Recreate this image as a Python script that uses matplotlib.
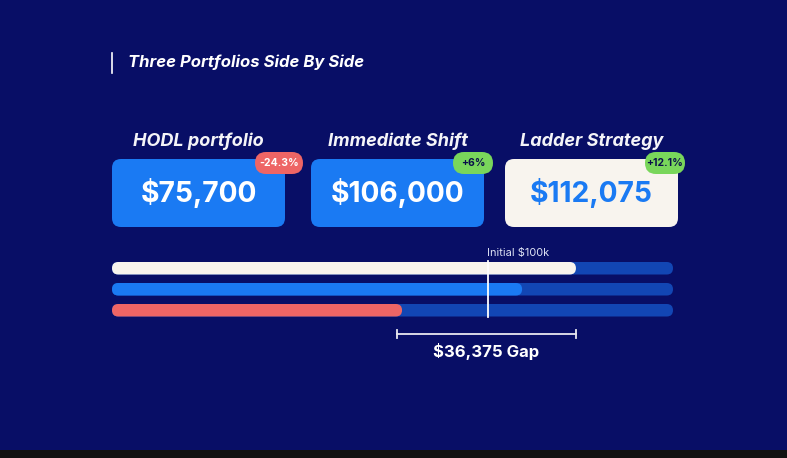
import matplotlib
matplotlib.use('Agg')
from matplotlib import pyplot as plt
from matplotlib.patches import FancyBboxPatch

# Data
portfolios = ['HODL portfolio', 'Immediate Shift', 'Ladder Strategy']
values = ['$75,700', '$106,000', '$112,075']
changes = ['-24.3%', '+6%', '+12.1%']
# progress bars, top to bottom: Ladder, Immediate, HODL (percent of track)
bar_fill_pct = [82.7, 73.1, 51.7]
marker_pct = 67.0
marker_label = 'Initial $100k'
gap_label = '$36,375 Gap'
title = 'Three Portfolios Side By Side'

BG = '#080e66'
BLUE = '#1a7af3'
CREAM = '#f8f4ee'
TRACK = '#1246b4'
RED = '#ee6565'
GREEN = '#79d65b'
DARK = '#0a0f4a'

FONT = ['Inter', 'DejaVu Sans']

fig = plt.figure(figsize=(7.87, 4.58), dpi=100)
fig.patch.set_facecolor(BG)
ax = fig.add_axes([0, 0, 1, 1])
ax.set_xlim(0, 787)
ax.set_ylim(458, 0)
ax.axis('off')
ax.set_facecolor(BG)

def rbox(x0, y0, w, h, r, color):
    p = FancyBboxPatch((x0 + r, y0 + r), w - 2 * r, h - 2 * r,
                       boxstyle='round,pad=%g' % r, fc=color, ec='none')
    ax.add_patch(p)

# dark strip at bottom
ax.add_patch(plt.Rectangle((0, 450), 787, 8, fc='#111111', ec='none'))

# title
ax.plot([112, 112], [53, 73], color='white', lw=1.2)
ax.text(128, 62.5, title, color='white', fontsize=12, fontweight='bold',
        style='italic', family=FONT, va='center', ha='left')

# cards
card_x = [112, 311, 505]
card_w = 173
card_fc = [BLUE, BLUE, CREAM]
card_tc = ['white', 'white', BLUE]
badge_fc = [RED, GREEN, GREEN]
badge_tc = ['white', DARK, DARK]
badge_x = [255, 453, 645]
badge_w = [48, 40, 40]
for i in range(3):
    cx = card_x[i] + card_w / 2
    ax.text(cx, 141, portfolios[i], color='#f4f4f8', fontsize=13,
            fontweight='bold', style='italic', family=FONT,
            ha='center', va='center')
    rbox(card_x[i], 159, card_w, 68, 9, card_fc[i])
    ax.text(cx, 193.5, values[i], color=card_tc[i], fontsize=20.3,
            fontweight='bold', family=FONT, ha='center', va='center')
    rbox(badge_x[i], 152, badge_w[i], 22, 11, badge_fc[i])
    ax.text(badge_x[i] + badge_w[i] / 2, 163.5, changes[i], color=badge_tc[i],
            fontsize=7.5, fontweight='bold', family=FONT,
            ha='center', va='center')

# progress bars
track_x0, track_x1 = 112, 673
track_w = track_x1 - track_x0
bar_y = [262, 283, 304]
bar_h = 12.5
bar_fc = [CREAM, BLUE, RED]
for i in range(3):
    rbox(track_x0, bar_y[i], track_w, bar_h, bar_h / 2, TRACK)
    rbox(track_x0, bar_y[i], track_w * bar_fill_pct[i] / 100, bar_h,
         bar_h / 2, bar_fc[i])

# initial marker
mx = track_x0 + track_w * marker_pct / 100
ax.plot([mx, mx], [261, 317], color='white', lw=1.3)
ax.text(mx + 30, 253, marker_label, color='#dfe3f5', fontsize=7.9,
        family=FONT, ha='center', va='center')

# gap bracket between lowest and highest fill
g0 = track_x0 + track_w * min(bar_fill_pct) / 100 - 5
g1 = track_x0 + track_w * max(bar_fill_pct) / 100
ax.plot([g0, g1], [334, 334], color='#e8e8f0', lw=1.3)
ax.plot([g0, g0], [330, 338], color='#e8e8f0', lw=1.3)
ax.plot([g1, g1], [330, 338], color='#e8e8f0', lw=1.3)
ax.text((g0 + g1) / 2, 352, gap_label, color='white', fontsize=12,
        fontweight='bold', family=FONT, ha='center', va='center')

fig.savefig('out.png', dpi=100, facecolor=BG)
